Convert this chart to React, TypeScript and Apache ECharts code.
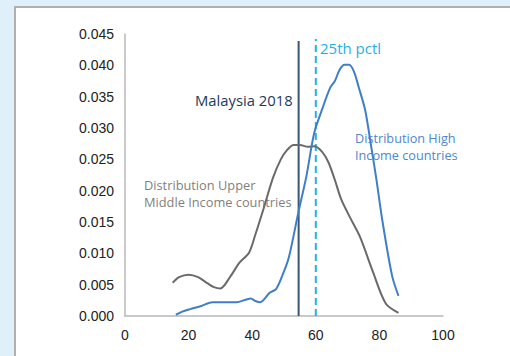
import React, { useEffect, useRef } from "react";
import * as echarts from "echarts";

const xTicks = [0, 20, 40, 60, 80, 100];
const yMax = 0.045;

const upperMiddle: [number, number][] = [
  [15, 0.0053], [17, 0.0062], [20, 0.0066], [23, 0.0062], [26, 0.0052], [28, 0.0046],
  [30, 0.0044], [33, 0.0062], [36, 0.0085], [39, 0.0101], [41, 0.013], [43.5, 0.017],
  [46.5, 0.022], [49, 0.025], [51, 0.0265], [53, 0.0273], [55, 0.0273], [57.5, 0.027],
  [59.5, 0.0271], [62, 0.0262], [64, 0.0245], [66, 0.0217], [68, 0.0186], [71, 0.0155],
  [74, 0.0125], [78, 0.007], [82, 0.002], [86, 0.0005],
];

const highIncome: [number, number][] = [
  [16, 0.0002], [18, 0.0007], [20.5, 0.0011], [24, 0.0016], [27.5, 0.0022], [31, 0.0022],
  [35, 0.0022], [38, 0.0026], [39.5, 0.0028], [41, 0.0024], [42.5, 0.0022], [45.5, 0.0037],
  [47.5, 0.0043], [49.5, 0.0065], [51.5, 0.0093], [54.5, 0.0165], [57, 0.0222], [59.5, 0.0292],
  [62, 0.033], [64.5, 0.0364], [66, 0.0375], [67.5, 0.0393], [69, 0.0401], [70.5, 0.0401],
  [72, 0.039], [73.5, 0.0365], [75.5, 0.0329], [77.5, 0.0268], [79, 0.022], [81, 0.015],
  [84, 0.0064], [86, 0.0032],
];

const malaysiaX = 54.6;
const malaysiaTop = 0.0439;
const pctl25X = 60;
const pctl25Top = 0.0442;

const labels = {
  malaysia: "Malaysia 2018",
  pctl: "25th pctl",
  high: "Distribution High\nIncome countries",
  upper: "Distribution Upper\nMiddle Income countries",
};

export default function App() {
  const ref = useRef<HTMLDivElement>(null);
  useEffect(() => {
    if (!ref.current) return;
    const chart = echarts.init(ref.current, undefined, { renderer: "svg" });
    const annFont = "'Open Sans', 'Noto Sans', sans-serif";
    chart.setOption({
      animation: false,
      backgroundColor: "#e0f0fb",
      grid: { left: 125, right: 67, top: 34, bottom: 40 },
      xAxis: {
        type: "value",
        min: 0,
        max: 100,
        interval: 20,
        axisLine: { show: true, lineStyle: { color: "#b8b8b8", width: 1.5 } },
        axisTick: { show: false },
        splitLine: { show: false },
        axisLabel: {
          color: "#222",
          fontSize: 14,
          fontFamily: "'Liberation Sans', Arial, sans-serif",
          margin: 12,
          formatter: (v: number) => (xTicks.includes(v) ? String(v) : ""),
        },
      },
      yAxis: {
        type: "value",
        min: 0,
        max: yMax,
        interval: 0.005,
        axisLine: { show: true, lineStyle: { color: "#b8b8b8", width: 1.5 } },
        axisTick: { show: false },
        splitLine: { show: false },
        axisLabel: {
          color: "#222",
          fontSize: 14,
          fontFamily: "'Liberation Sans', Arial, sans-serif",
          margin: 11,
          formatter: (v: number) => v.toFixed(3),
        },
      },
      graphic: [
        {
          type: "rect",
          z: -10,
          silent: true,
          shape: { x: 15, y: 7, width: 520, height: 370 },
          style: { fill: "#ffffff", stroke: "#b0b0b0", lineWidth: 2 },
        },
        {
          type: "text",
          x: 195,
          y: 100,
          style: {
            text: labels.malaysia,
            fill: "#1d3a5a",
            font: `14.8px ${annFont}`,
            textVerticalAlign: "middle",
          },
        },
        {
          type: "text",
          x: 320,
          y: 48,
          style: {
            text: labels.pctl,
            fill: "#1fb0e8",
            font: `15px ${annFont}`,
            textVerticalAlign: "middle",
          },
        },
        {
          type: "text",
          x: 355,
          y: 129,
          style: {
            text: labels.high,
            fill: "#4f86cc",
            font: `12.7px ${annFont}`,
            lineHeight: 17,
          },
        },
        {
          type: "text",
          x: 144,
          y: 176.5,
          style: {
            text: labels.upper,
            fill: "#7f7f7f",
            font: `12.8px ${annFont}`,
            lineHeight: 17,
          },
        },
      ],
      series: [
        {
          type: "line",
          data: upperMiddle,
          smooth: 0.3,
          showSymbol: false,
          lineStyle: { color: "#6a6a6a", width: 2 },
          z: 3,
        },
        {
          type: "line",
          data: highIncome,
          smooth: 0.3,
          showSymbol: false,
          lineStyle: { color: "#3f7ec8", width: 2 },
          z: 4,
        },
        {
          type: "line",
          data: [[malaysiaX, 0], [malaysiaX, malaysiaTop]],
          showSymbol: false,
          lineStyle: { color: "#3a5671", width: 2 },
          z: 2,
        },
        {
          type: "line",
          data: [[pctl25X, 0], [pctl25X, pctl25Top]],
          showSymbol: false,
          lineStyle: { color: "#22b2ea", width: 2, type: [7, 4] },
          z: 2,
        },
      ],
    });
    return () => chart.dispose();
  }, []);
  return (
    <div
      ref={ref}
      style={{ position: "fixed", left: 0, top: 0, width: 510, height: 356 }}
    />
  );
}
